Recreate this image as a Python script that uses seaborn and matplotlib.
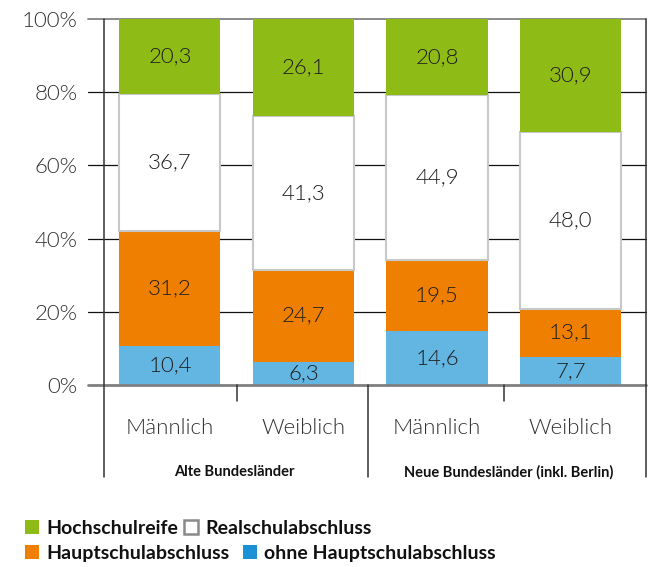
import numpy as np
import pandas as pd
import matplotlib
matplotlib.use("Agg")
import matplotlib.pyplot as plt
import matplotlib.transforms as mtransforms
import seaborn as sns
from matplotlib.lines import Line2D

# ---------------- data ----------------
regions = ["Alte Bundesländer", "Neue Bundesländer (inkl. Berlin)"]
sexes = ["Männlich", "Weiblich", "Männlich", "Weiblich"]
bar_ids = ["Alte-M", "Alte-W", "Neue-M", "Neue-W"]
ohne_haupt = [10.4, 6.3, 14.6, 7.7]
hauptschul = [31.2, 24.7, 19.5, 13.1]
realschul = [36.7, 41.3, 44.9, 48.0]
hochschul = [20.3, 26.1, 20.8, 30.9]
series_names = ["ohne Hauptschulabschluss", "Hauptschulabschluss",
                "Realschulabschluss", "Hochschulreife"]
y_ticks = [0, 20, 40, 60, 80, 100]
y_tick_labels = ["0%", "20%", "40%", "60%", "80%", "100%"]

# ---------------- styling ----------------
sns.set_theme(style="white")
plt.rcParams["font.family"] = ["Lato", "DejaVu Sans"]

GREEN = "#8FBB17"
ORANGE = "#EE7F00"
BLUE = "#63B6E1"
BLUE_LEG = "#1A91D6"
WHITE = "#FFFFFF"
colors = [BLUE, ORANGE, WHITE, GREEN]
LIGHT = 300
TXT = "#1e1e1e"

values = pd.DataFrame({
    "bar": bar_ids,
    series_names[0]: ohne_haupt,
    series_names[1]: hauptschul,
    series_names[2]: realschul,
    series_names[3]: hochschul,
})
raw = values[series_names]
shares = raw.div(raw.sum(axis=1), axis=0) * 100  # 100 % stacked

fig = plt.figure(figsize=(6.54, 5.67), dpi=100)
ax = fig.add_axes([0.159, 0.321, 0.829, 0.6455])

# gridlines (extend left as tick marks)
tick_frac = 16 / 542
for yv in y_ticks:
    if yv in (0, 100):
        continue
    ax.axhline(yv, xmin=-tick_frac, xmax=1, color="#111111", lw=0.9,
               zorder=0, clip_on=False)
ax.axhline(100, xmin=-tick_frac, xmax=1, color="#8a8a8a", lw=1.4,
           zorder=0, clip_on=False)

bottom = np.zeros(len(bar_ids))
bw = 0.757
for name, col in zip(series_names, colors):
    h = shares[name].to_numpy()
    is_white = col == WHITE
    sns.barplot(x=values["bar"], y=h, bottom=bottom, color=col,
                order=bar_ids, width=bw, ax=ax, saturation=1,
                edgecolor="#C8C8C8" if is_white else "none",
                linewidth=1.5 if is_white else 0, zorder=2)
    for i, (b, hv, rv) in enumerate(zip(bottom, h, raw[name])):
        ax.text(i, b + hv / 2, f"{rv:.1f}".replace(".", ","),
                ha="center", va="center", fontsize=16, fontweight=LIGHT,
                color=TXT, zorder=5)
    bottom = bottom + h

# baseline
ax.axhline(0, xmin=-tick_frac, xmax=1, color="#808080", lw=2.0,
           zorder=4, clip_on=False)

ax.set_ylim(0, 100)
ax.set_xlim(-0.494, 3.566)
ax.set_yticks(y_ticks)
ax.set_yticklabels(y_tick_labels)
ax.tick_params(axis="y", length=0, pad=19, labelsize=16, labelcolor="#333333")
for lab in ax.get_yticklabels():
    lab.set_fontweight(LIGHT)
ax.set_xticks(range(len(bar_ids)))
ax.set_xticklabels(sexes)
ax.tick_params(axis="x", length=0, pad=24, labelsize=16, labelcolor="#333333")
for lab in ax.get_xticklabels():
    lab.set_fontweight(LIGHT)
ax.set_xlabel("")
ax.set_ylabel("")
for s in ax.spines.values():
    s.set_visible(False)

# vertical separators
low = -0.251
ax.axvline(-0.494, ymin=low, ymax=1, color="#333333", lw=1.1, clip_on=False, zorder=6)
ax.axvline(1.483, ymin=low, ymax=0, color="#333333", lw=1.1, clip_on=False, zorder=6)
ax.axvline(3.566, ymin=low, ymax=1, color="#333333", lw=1.1, clip_on=False, zorder=6)
for xv in (0.5, 2.5):
    ax.axvline(xv, ymin=-16 / 366, ymax=0, color="#333333", lw=1.1,
               clip_on=False, zorder=6)

# group labels
trans = mtransforms.blended_transform_factory(ax.transData, ax.transAxes)
ax.text(0.485, -0.239, regions[0], transform=trans, ha="center", va="center",
        fontsize=10.5, fontweight="bold", color="#111111")
ax.text(2.54, -0.239, regions[1], transform=trans, ha="center", va="center",
        fontsize=10.5, fontweight="bold", color="#111111")

# legend (two rows)
def handle(fc, ec=None, mew=0):
    return Line2D([], [], marker="s", linestyle="none", markersize=10.6,
                  markerfacecolor=fc, markeredgecolor=ec or fc,
                  markeredgewidth=mew)

leg_kw = dict(loc="center left", frameon=False, borderpad=0, borderaxespad=0,
              handlelength=0.8, handletextpad=0.35, ncol=2,
              prop={"weight": "bold", "size": 14})
leg1 = fig.legend([handle(GREEN), handle("white", "#8a8a8a", 1.8)],
                  [series_names[3], series_names[2]],
                  bbox_to_anchor=(24 / 654, 1 - 528 / 567),
                  columnspacing=0.25, **leg_kw)
leg2 = fig.legend([handle(ORANGE), handle(BLUE_LEG)],
                  [series_names[1], series_names[0]],
                  bbox_to_anchor=(24 / 654, 1 - 553 / 567),
                  columnspacing=0.65, **leg_kw)
for lg in (leg1, leg2):
    for t in lg.get_texts():
        t.set_color("#111111")

fig.savefig("out.png", dpi=100)
